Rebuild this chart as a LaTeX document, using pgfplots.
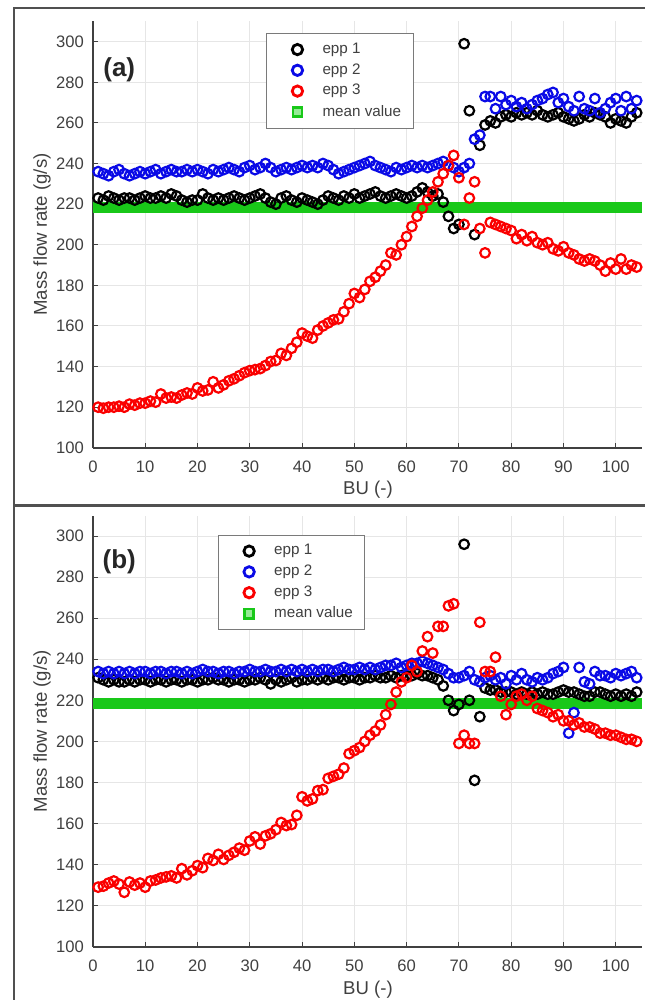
\documentclass[border=0pt]{standalone}
\usepackage{pgfplots}
\usepackage{pgfplotstable}
\pgfplotsset{compat=1.18}
\usepackage{fontspec}
\setmainfont{Liberation Sans}
\definecolor{tickgray}{HTML}{404040}
\definecolor{gridgray}{HTML}{E6E6E6}
\definecolor{framegray}{HTML}{505050}
\definecolor{legendgray}{HTML}{7A7A7A}
\definecolor{mgreen}{RGB}{25,200,25}
\definecolor{lgreen}{RGB}{150,235,150}
\definecolor{mblue}{RGB}{10,10,230}
\definecolor{mred}{RGB}{250,0,0}

\pgfplotstableread{
x a1 a2 a3 b1 b2 b3 m
1 223 236 120 231 234 129 218.5
2 222 235 119.5 230 233 129.5 218.5
3 224 234 120 229 234 131 218.5
4 223 236 120 230 233 132 218.5
5 222 237 120.5 229 234 130.5 218.5
6 223 235 120 229 233 126.5 218.5
7 223 234 121.5 230 234 131.5 218.5
8 222 235 121 229 233 130 218.5
9 223 236 122 230 234 131 218.5
10 224 235 122 230 234 129 218.5
11 223 236 123 229 233 132 218.5
12 223 237 122.5 230 234 132.5 218.5
13 224 235 126.5 230 234 133.5 218.5
14 223 236 124.5 229 233 134 218.5
15 225 237 125 230 234 134.5 218.5
16 224 236 124.5 230 234 133.5 218.5
17 222 236 126 229 233 138 218.5
18 221 237 127 230 234 135 218.5
19 222 236 126.5 230 233 137 218.5
20 222 237 129.5 229 234 139.5 218.5
21 225 236 128 230 235 138.5 218.5
22 223 235 128.5 230 234 143 218.5
23 222 237 132.5 231 234 142 218.5
24 223 236 129.5 230 233 145 218.5
25 222 237 131 230 234 142.5 218.5
26 223 238 133 229 234 144.5 218.5
27 224 237 134 230 233 146 218.5
28 223 236 135.5 230 234 148 218.5
29 222 238 137 229 234 147 218.5
30 223 239 138 230 235 151.5 218.5
31 224 237 138.5 230 234 153.5 218.5
32 225 238 139 231 234 150 218.5
33 223 240 140.5 230 235 154 218.5
34 221 238 142.5 228 234 155 218.5
35 220 236 143 230 234 157 218.5
36 223 237 146.5 229 235 160.5 218.5
37 224 238 145.5 230 234 159 218.5
38 222 237 149 231 235 159.5 218.5
39 221 238 152 229 234 164 218.5
40 223 239 156.5 230 235 173 218.5
41 222 238 155 230 234 171 218.5
42 221 239 154 231 235 172 218.5
43 220 238 158 230 234 176 218.5
44 222 240 160 231 235 176.5 218.5
45 224 239 161.5 230 235 182 218.5
46 223 237 163 231 234 183 218.5
47 222 235 163.5 231 235 184 218.5
48 224 236 167 230 236 187 218.5
49 223 237 171 231 235 194 218.5
50 225 238 176 231 235 195.5 218.5
51 223 239 174 230 236 197 218.5
52 224 240 178 231 235 200 218.5
53 225 241 182 231 236 203 218.5
54 226 239 184 232 235 205 218.5
55 224 238 187 231 236 208 218.5
56 223 237 190 231 237 213 218.5
57 224 236 196 232 237 218 218.5
58 225 238 195 231 238 224 218.5
59 224 237 200 232 236 229 218.5
60 223 238 204 232 237 231 218.5
61 224 239 209 232 238 237 218.5
62 226 238 214 233 238 234 218.5
63 228 239 218 232 239 244 218.5
64 226 238 222 232 238 251 218.5
65 224 239 226 231 237 243 218.5
66 225 240 231 230 236 256 218.5
67 221 241 235 227 235 256 218.5
68 214 239 239 220 233 266 218.5
69 208 238 244 215 231 267 218.5
70 210 236 233 218 231 199 218.5
71 299 238 210 296 232 203 218.5
72 266 240 223 220 234 199 218.5
73 205 252 231 181 230 199 218.5
74 249 254 208 212 229 258 218.5
75 259 273 196 226 231 234 218.5
76 261 273 211 225 232 234 218.5
77 260 267 210 225 230 241 218.5
78 263 273 209 224 231 222 218.5
79 264 269 208 224 228 213 218.5
80 263 271 207 224 232 218 218.5
81 265 268 203 223 230 222 218.5
82 264 270 205 224 233 223 218.5
83 265 267 202 223 230 220 218.5
84 264 269 204 224 229 222 218.5
85 266 271 201 223 231 216 218.5
86 264 272 200 224 230 215 218.5
87 263 274 201 223 231 214 218.5
88 264 275 198 223 233 212 218.5
89 265 270 197 224 234 213 218.5
90 263 272 199 225 236 210 218.5
91 262 268 196 224 204 210 218.5
92 261 266 195 224 214 208 218.5
93 262 273 193 223 236 209 218.5
94 264 267 192 222 229 207 218.5
95 263 266 193 222 228 207 218.5
96 265 272 192 224 234 206 218.5
97 264 265 190 224 232 204 218.5
98 263 267 187 223 232 204 218.5
99 260 270 191 222 231 203 218.5
100 262 272 188 223 233 203 218.5
101 261 266 193 222 232 202 218.5
102 260 273 188 223 233 201 218.5
103 263 267 190 222 234 201 218.5
104 265 271 189 224 231 200 218.5
}\datatable

\pgfplotsset{
  panel/.style={
    scale only axis,
    width=274.5pt,
    xmin=0, xmax=105, ymin=100, ymax=310,
    xtick={0,10,...,100}, ytick={100,120,...,300},
    axis lines*=left,
    axis line style={-, tickgray, line width=0.8pt},
    tick style={tickgray, line width=0.5pt},
    tick align=inside,
    major tick length=2.5pt,
    grid=major,
    grid style={gridgray, line width=0.5pt},
    /pgf/number format/assume math mode=true,
    ticklabel style={font=\fontsize{8.3}{9}\selectfont, text=tickgray},
    xticklabel style={yshift=-3pt},
    yticklabel style={xshift=-1pt},
    xlabel={BU (-)},
    ylabel={Mass flow rate (g/s)},
    label style={font=\fontsize{9.3}{11}\selectfont, text=tickgray},
    xlabel style={at={(axis description cs:0.501,-0.099)}, anchor=center},
    ylabel style={at={(axis description cs:-0.0927,0.5)}, anchor=center},
    legend cell align=left,
    legend style={draw=legendgray, line width=0.5pt, fill=white,
      font=\fontsize{7.6}{9}\selectfont, text=tickgray,
      inner xsep=4pt, inner ysep=2.5pt, row sep=-0.4pt},
  },
  legimg/.style={legend image code/.code={\path (0pt,0pt) (21pt,0pt); \draw[##1, mark size=2.6pt, line width=1.4pt] plot coordinates {(11pt,0pt)};}},
  legimgsq/.style={legend image code/.code={\path (0pt,0pt) (21pt,0pt); \draw[##1, mark size=2.3pt, line width=1.3pt] plot coordinates {(11pt,0pt)};}},
  circ/.style={only marks, mark=o, mark size=2.4pt, line width=1.1pt, legimg},
  meanline/.style={only marks, mark=square*, mark size=2.3pt, line width=0.8pt, color=mgreen},
}

\begin{document}
\begin{tikzpicture}
\path[use as bounding box] (0pt,0pt) rectangle (327pt,-500pt);
\draw[framegray, line width=1.1pt] (7pt,-500pt) -- (7pt,-4pt) -- (322.5pt,-4pt);
\draw[framegray, line width=1.3pt] (7pt,-252.75pt) -- (322.5pt,-252.75pt);

\begin{axis}[panel, at={(46.45pt,-223.9pt)}, anchor=south west, height=213.2pt,
  legend style={at={(0.315,0.972)}, anchor=north west}]
\addplot[meanline, forget plot] table[x=x, y=m]{\datatable};
\addplot[circ, color=black] table[x=x, y=a1]{\datatable};
\addlegendentry{epp 1}
\addplot[circ, color=mblue] table[x=x, y=a2]{\datatable};
\addlegendentry{epp 2}
\addplot[circ, color=mred] table[x=x, y=a3]{\datatable};
\addlegendentry{epp 3}
\addlegendimage{only marks, mark=square*, draw=mgreen, fill=lgreen, legimgsq}
\addlegendentry{mean value}
\node[font=\bfseries\fontsize{13}{15}\selectfont, text=black!85, anchor=center] at (rel axis cs:0.048,0.886) {(a)};
\end{axis}

\begin{axis}[panel, at={(46.45pt,-473.35pt)}, anchor=south west, height=215.6pt,
  legend style={at={(0.227,0.955)}, anchor=north west}]
\addplot[meanline, forget plot] table[x=x, y=m]{\datatable};
\addplot[circ, color=black] table[x=x, y=b1]{\datatable};
\addlegendentry{epp 1}
\addplot[circ, color=mblue] table[x=x, y=b2]{\datatable};
\addlegendentry{epp 2}
\addplot[circ, color=mred] table[x=x, y=b3]{\datatable};
\addlegendentry{epp 3}
\addlegendimage{only marks, mark=square*, draw=mgreen, fill=lgreen, legimgsq}
\addlegendentry{mean value}
\node[font=\bfseries\fontsize{13}{15}\selectfont, text=black!85, anchor=center] at (rel axis cs:0.048,0.893) {(b)};
\end{axis}
\end{tikzpicture}
\end{document}
